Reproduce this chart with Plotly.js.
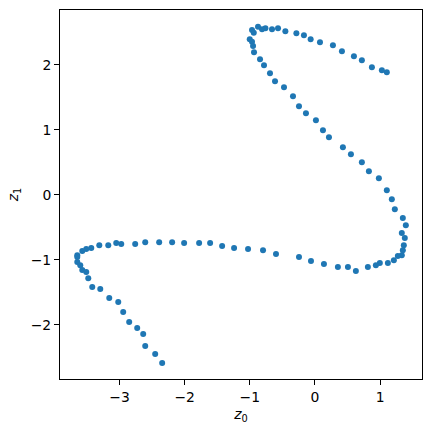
<!DOCTYPE html>
<html>
<head>
<meta charset="utf-8">
<script src="https://cdn.plot.ly/plotly-3.0.1.min.js"></script>
<style>html,body{margin:0;padding:0;background:#fff;}#chart{width:432px;height:433px;}</style>
</head>
<body>
<div id="chart"></div>
<script>
const z0 = [1.103, 1.027, 0.874, 0.720, 0.598, 0.414, 0.276, 0.077, -0.066, -0.169, -0.285, -0.454, -0.567, -0.659, -0.760, -0.812, -0.874, -0.966, -0.939, -1.001, -0.966, -0.950, -0.935,
  -0.843, -0.782, -0.690, -0.613, -0.475, -0.337, -0.245, -0.138, 0.015, 0.123, 0.215, 0.429, 0.552, 0.720, 0.828, 0.981, 1.103,
  1.180, 1.226, 1.349, 1.395, 1.333, 1.379, 1.364, 1.349, 1.333, 1.272, 1.211, 1.119, 0.996, 0.935, 0.812, 0.628, 0.506, 0.352, 0.138, -0.061, -0.245, -0.598, -0.797, -1.027,
  -1.241, -1.425, -1.609, -1.778, -2.008, -2.192, -2.391, -2.605, -2.759, -2.973, -3.050, -3.172, -3.310, -3.433, -3.510, -3.571, -3.648, -3.648, -3.648, -3.602, -3.571, -3.510, -3.479, -3.418, -3.295, -3.157, -3.019, -2.943, -2.851, -2.728, -2.636, -2.605, -2.452, -2.345];
const z1 = [1.888, 1.918, 1.965, 2.072, 2.134, 2.211, 2.303, 2.349, 2.395, 2.457, 2.488, 2.518, 2.565, 2.549, 2.565, 2.549, 2.589, 2.538, 2.497, 2.395, 2.358, 2.292, 2.195,
  2.088, 1.995, 1.872, 1.749, 1.657, 1.518, 1.365, 1.257, 1.149, 0.995, 0.888, 0.734, 0.626, 0.503, 0.365, 0.257, 0.072,
  -0.066, -0.220, -0.358, -0.466, -0.589, -0.666, -0.774, -0.851, -0.928, -0.943, -1.005, -1.051, -1.051, -1.082, -1.112, -1.174, -1.112, -1.112, -1.066, -1.020, -0.958, -0.912, -0.851, -0.835,
  -0.820, -0.789, -0.743, -0.743, -0.743, -0.728, -0.728, -0.728, -0.758, -0.758, -0.743, -0.774, -0.774, -0.820, -0.835, -0.866, -0.928, -0.958, -1.035, -1.082, -1.158, -1.189, -1.282, -1.420, -1.451, -1.589, -1.651, -1.805, -1.958, -2.051, -2.143, -2.328, -2.451, -2.589];
const xTicks = [-3, -2, -1, 0, 1];
const yTicks = [-2, -1, 0, 1, 2];
const tickText = v => (v < 0 ? '\u2212' + Math.abs(v) : String(v));

const trace = {
  x: z0, y: z1, type: 'scatter', mode: 'markers',
  marker: {color: '#1f77b4', size: 6, line: {width: 0}},
  hoverinfo: 'none'
};
const axisCommon = {
  showgrid: false, zeroline: false, showline: true, mirror: true,
  linecolor: '#000', linewidth: 1, ticks: 'outside', ticklen: 5, tickwidth: 1, tickcolor: '#000',
  tickfont: {family: 'DejaVu Sans', size: 13.9, color: '#000'}, automargin: false
};
const layout = {
  width: 432, height: 433,
  margin: {l: 60, r: 10, t: 10, b: 54},
  paper_bgcolor: '#fff', plot_bgcolor: '#fff',
  showlegend: false,
  font: {family: 'DejaVu Sans', color: '#000'},
  xaxis: Object.assign({}, axisCommon, {
    range: [-3.913, 1.643], tickvals: xTicks, ticktext: xTicks.map(tickText),
    title: {text: '<i>z</i><sub>0</sub>', font: {family: 'DejaVu Sans', size: 14}, standoff: 5}
  }),
  yaxis: Object.assign({}, axisCommon, {
    range: [-2.835, 2.846], tickvals: yTicks, ticktext: yTicks.map(tickText),
    title: {text: '<i>z</i><sub>1</sub>', font: {family: 'DejaVu Sans', size: 14}, standoff: 8}
  })
};
Plotly.newPlot('chart', [trace], layout, {displayModeBar: false, staticPlot: true});
</script>
</body>
</html>
